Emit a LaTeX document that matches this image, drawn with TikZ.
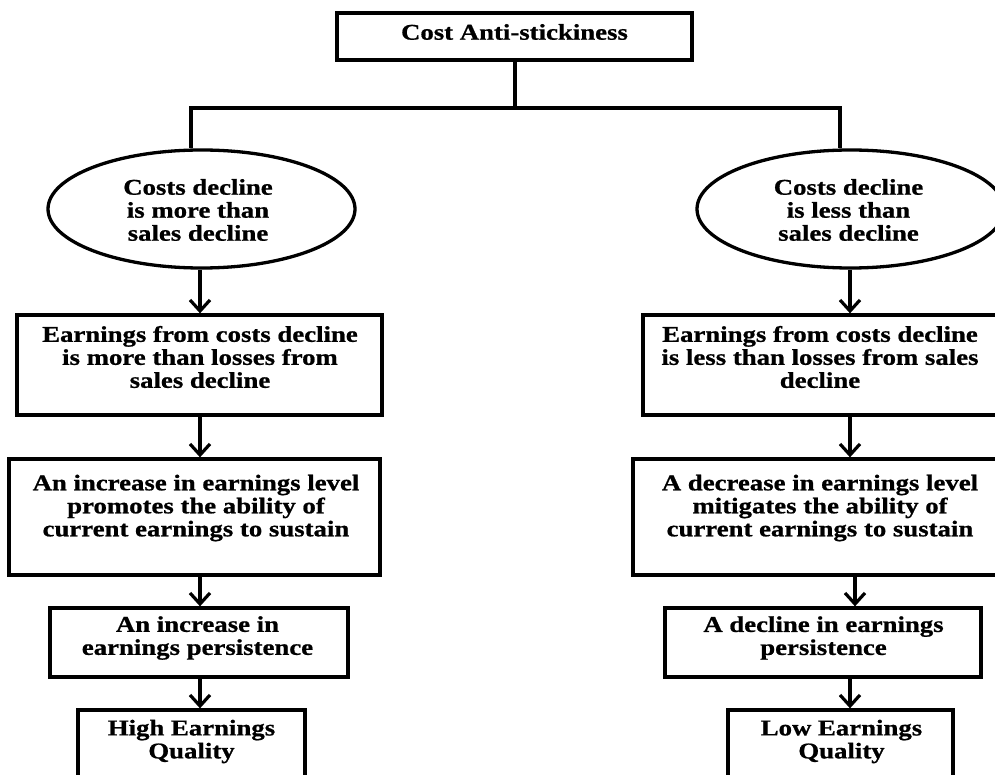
\documentclass[tikz,border=0pt]{standalone}
\usepackage{fontspec}
\setmainfont{Liberation Serif}[FakeStretch=1.19,BoldFeatures={FakeBold=0.8}]
\usetikzlibrary{shapes.geometric,arrows.meta}
\begin{document}
\begin{tikzpicture}[x=1pt,y=-1pt,
  boxshape/.style={draw,line width=3.3pt,rectangle,inner sep=0pt,minimum width=#1},
  ellshape/.style={draw,line width=3.3pt,ellipse,inner sep=0pt,minimum width=307pt,minimum height=118pt},
  txt/.style={align=center,inner sep=0pt,font=\bfseries\fontsize{22.5}{23}\selectfont},
  conn/.style={line width=3.4pt},
  arr/.style={line width=3.2pt,-{Straight Barb[length=11pt,width=20pt,line width=3.2pt]}}]
\useasboundingbox (0,0) rectangle (995,775);
\clip (0,0) rectangle (995,775);
\fill[white] (0,0) rectangle (995,775);

% top
\node[boxshape=355pt,minimum height=47pt] (T) at (514.5,36.5) {};
\node[txt] (Tt) at (514.5,32) {Cost Anti-stickiness};

% ellipses
\node[ellshape] (EL) at (201.5,209) {};
\node[txt] (ELt) at (198,210) {Costs decline\\is more than\\sales decline};
\node[ellshape] (ER) at (850.5,209) {};
\node[txt] (ERt) at (848.5,210) {Costs decline\\is less than\\sales decline};

% left column
\node[boxshape=365pt,minimum height=100pt] (L1) at (199.5,365) {};
\node[txt] (L1t) at (200,357) {Earnings from costs decline\\is more than losses from\\sales decline};
\node[boxshape=371pt,minimum height=116pt] (L2) at (194.5,517) {};
\node[txt] (L2t) at (196,508) {An increase in earnings level\\promotes the ability of\\current earnings to sustain};
\node[boxshape=298pt,minimum height=69pt] (L3) at (199,642.5) {};
\node[txt] (L3t) at (197.5,638) {An increase in\\earnings persistence};
\node[boxshape=227pt,minimum height=90pt] (L4) at (191.5,755) {};
\node[txt] (L4t) at (191.5,741.5) {High Earnings\\Quality};

% right column
\node[boxshape=355pt,minimum height=100pt] (R1) at (820.5,365) {};
\node[txt] (R1t) at (820,357) {Earnings from costs decline\\is less than losses from sales\\decline};
\node[boxshape=377pt,minimum height=116pt] (R2) at (821.5,517) {};
\node[txt] (R2t) at (820,508) {A decrease in earnings level\\mitigates the ability of\\current earnings to sustain};
\node[boxshape=316pt,minimum height=69pt] (R3) at (823,642.5) {};
\node[txt] (R3t) at (823.5,638) {A decline in earnings\\persistence};
\node[boxshape=225pt,minimum height=90pt] (R4) at (840.5,755) {};
\node[txt] (R4t) at (841.5,741.5) {Low Earnings\\Quality};

% tree connectors
\coordinate (jl) at (191,108);
\coordinate (jr) at (840,108);
\draw[conn,line width=4pt] (T.south) -- (T.south |- jl);
\draw[conn,line join=miter] (EL.north -| jl) -- (jl) -- (jr) -- (ER.north -| jr);

% arrows
\coordinate (lx) at (200,0);
\coordinate (rx) at (850,0);
\coordinate (rxb) at (855,0);
\draw[arr] (EL.south -| lx) -- (L1.north -| lx);
\draw[arr] (L1.south -| lx) -- (L2.north -| lx);
\draw[arr] (L2.south -| lx) -- (L3.north -| lx);
\draw[arr] (L3.south -| lx) -- (L4.north -| lx);
\draw[arr] (ER.south -| rx) -- (R1.north -| rx);
\draw[arr] (R1.south -| rx) -- (R2.north -| rx);
\draw[arr] (R2.south -| rxb) -- (R3.north -| rxb);
\draw[arr] (R3.south -| rx) -- (R4.north -| rx);
\end{tikzpicture}
\end{document}
